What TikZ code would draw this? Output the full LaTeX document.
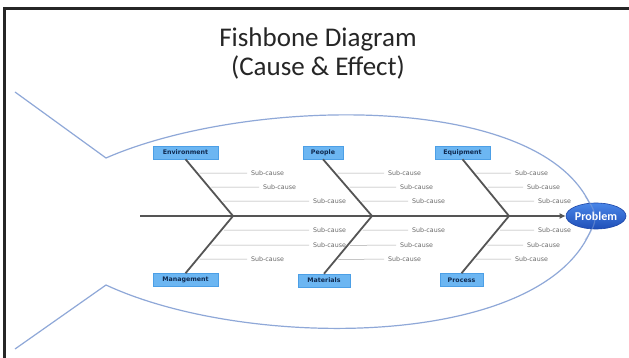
\documentclass[tikz,border=0pt]{standalone}
\usepackage{fontspec}
\setmainfont{Carlito}
\newfontfamily\dejavu{DejaVu Sans}
\usetikzlibrary{arrows.meta,shapes.geometric,calc}
\definecolor{catblue}{HTML}{6CB6F2}
\definecolor{catedge}{HTML}{4C9FE6}
\definecolor{navy}{HTML}{102A50}
\definecolor{subgray}{HTML}{686868}
\definecolor{linegray}{HTML}{A8A8A8}
\definecolor{bonegray}{HTML}{555555}
\definecolor{fishblue}{HTML}{8FA8D8}
\definecolor{probtop}{HTML}{4A86E8}
\definecolor{probbot}{HTML}{1F4FB8}
\definecolor{probedge}{HTML}{1C46A8}
\definecolor{titlegray}{HTML}{262626}
\begin{document}
\begin{tikzpicture}[x=1pt,y=-1pt,
  titletext/.style={anchor=base,inner sep=0,text=titlegray,font=\fontsize{27}{29}\selectfont},
  catbox/.style={fill=catblue,draw=catedge,line width=0.5,text=navy,
    font=\dejavu\bfseries\fontsize{6.3}{7}\selectfont,minimum height=13,inner sep=1},
  sub/.style={anchor=west,inner sep=0,text=subgray,font=\dejavu\fontsize{6.3}{7}\selectfont},
  bone/.style={draw=bonegray,line width=1.8},
  subline/.style={draw=linegray,line width=0.5,shorten <=2.5,shorten >=4},
  fish/.style={draw=fishblue,line width=1.2},
  frame/.style={draw=black!85,line width=2.5}]
\useasboundingbox (0,0) rectangle (629,358);
\fill[white] (0,0) rectangle (629,358);
\draw[frame] (4.5,358) -- (4.5,8.5) -- (629,8.5);

\node[titletext] (t1) at (318,47) {Fishbone Diagram};
\node[titletext] (t2) at (318,76) {(Cause \& Effect)};

% fish outline
\draw[fish] (15,92) -- (106,158) .. controls (250,95) and (560,90) .. (595,218)
  .. controls (560,350) and (250,352) .. (106,285) -- (15,349);

% problem head
\node[ellipse,minimum width=60,minimum height=26,inner sep=0,top color=probtop,bottom color=probbot,
  draw=probedge,line width=0.6,text=white,font=\bfseries\fontsize{12}{14}\selectfont] (problem) at (596,216) {Problem};
\draw[fish,opacity=0.45] (585,196) .. controls (592,205) and (595,212) .. (595,218) .. controls (595,224) and (592,231) .. (585,240);

% category boxes
\node[catbox,minimum width=65] (env) at (185.5,152.5) {Environment};
\node[catbox,minimum width=40] (peo) at (323,152.5) {People};
\node[catbox,minimum width=55] (equ) at (462.5,152.5) {Equipment};
\node[catbox,minimum width=65] (mgt) at (185.5,280) {Management};
\node[catbox,minimum width=52] (mat) at (324,280.5) {Materials};
\node[catbox,minimum width=43] (pro) at (461.5,280) {Process};

% spine
\coordinate (tail) at (140,216);
\coordinate (j1) at (233,216);
\coordinate (j2) at (372,216);
\coordinate (j3) at (509,216);
\draw[bone,-{Latex[length=6,width=6]}] (tail) -- (problem.west);

% bones
\draw[bone] (env.south) -- (j1) -- (mgt.north);
\draw[bone] (peo.south) -- (j2) -- (mat.north);
\draw[bone] (equ.south) -- (j3) -- (pro.north);

% sub-causes
\foreach \g/\ta/\tb/\jn/\ua/\ub/\uc/\la/\lb/\lc in {
  e/env/mgt/j1/251/263/313/313/313/251,
  p/peo/mat/j2/388/400/412/412/400/388,
  q/equ/pro/j3/515/527/538/538/527/515}{
  \node[sub] (\g-u1) at (\ua,173) {Sub-cause};
  \node[sub] (\g-u2) at (\ub,187) {Sub-cause};
  \node[sub] (\g-u3) at (\uc,201) {Sub-cause};
  \node[sub] (\g-l1) at (\la,230) {Sub-cause};
  \node[sub] (\g-l2) at (\lb,245) {Sub-cause};
  \node[sub] (\g-l3) at (\lc,259) {Sub-cause};
  \draw[subline] ($(\ta.south)!0.246!(\jn)$) -- (\g-u1.west);
  \draw[subline] ($(\ta.south)!0.491!(\jn)$) -- (\g-u2.west);
  \draw[subline] ($(\ta.south)!0.737!(\jn)$) -- (\g-u3.west);
  \draw[subline] ($(\jn)!0.246!(\tb.north)$) -- (\g-l1.west);
  \draw[subline] ($(\jn)!0.509!(\tb.north)$) -- (\g-l2.west);
  \draw[subline] ($(\jn)!0.754!(\tb.north)$) -- (\g-l3.west);
}
\end{tikzpicture}
\end{document}
